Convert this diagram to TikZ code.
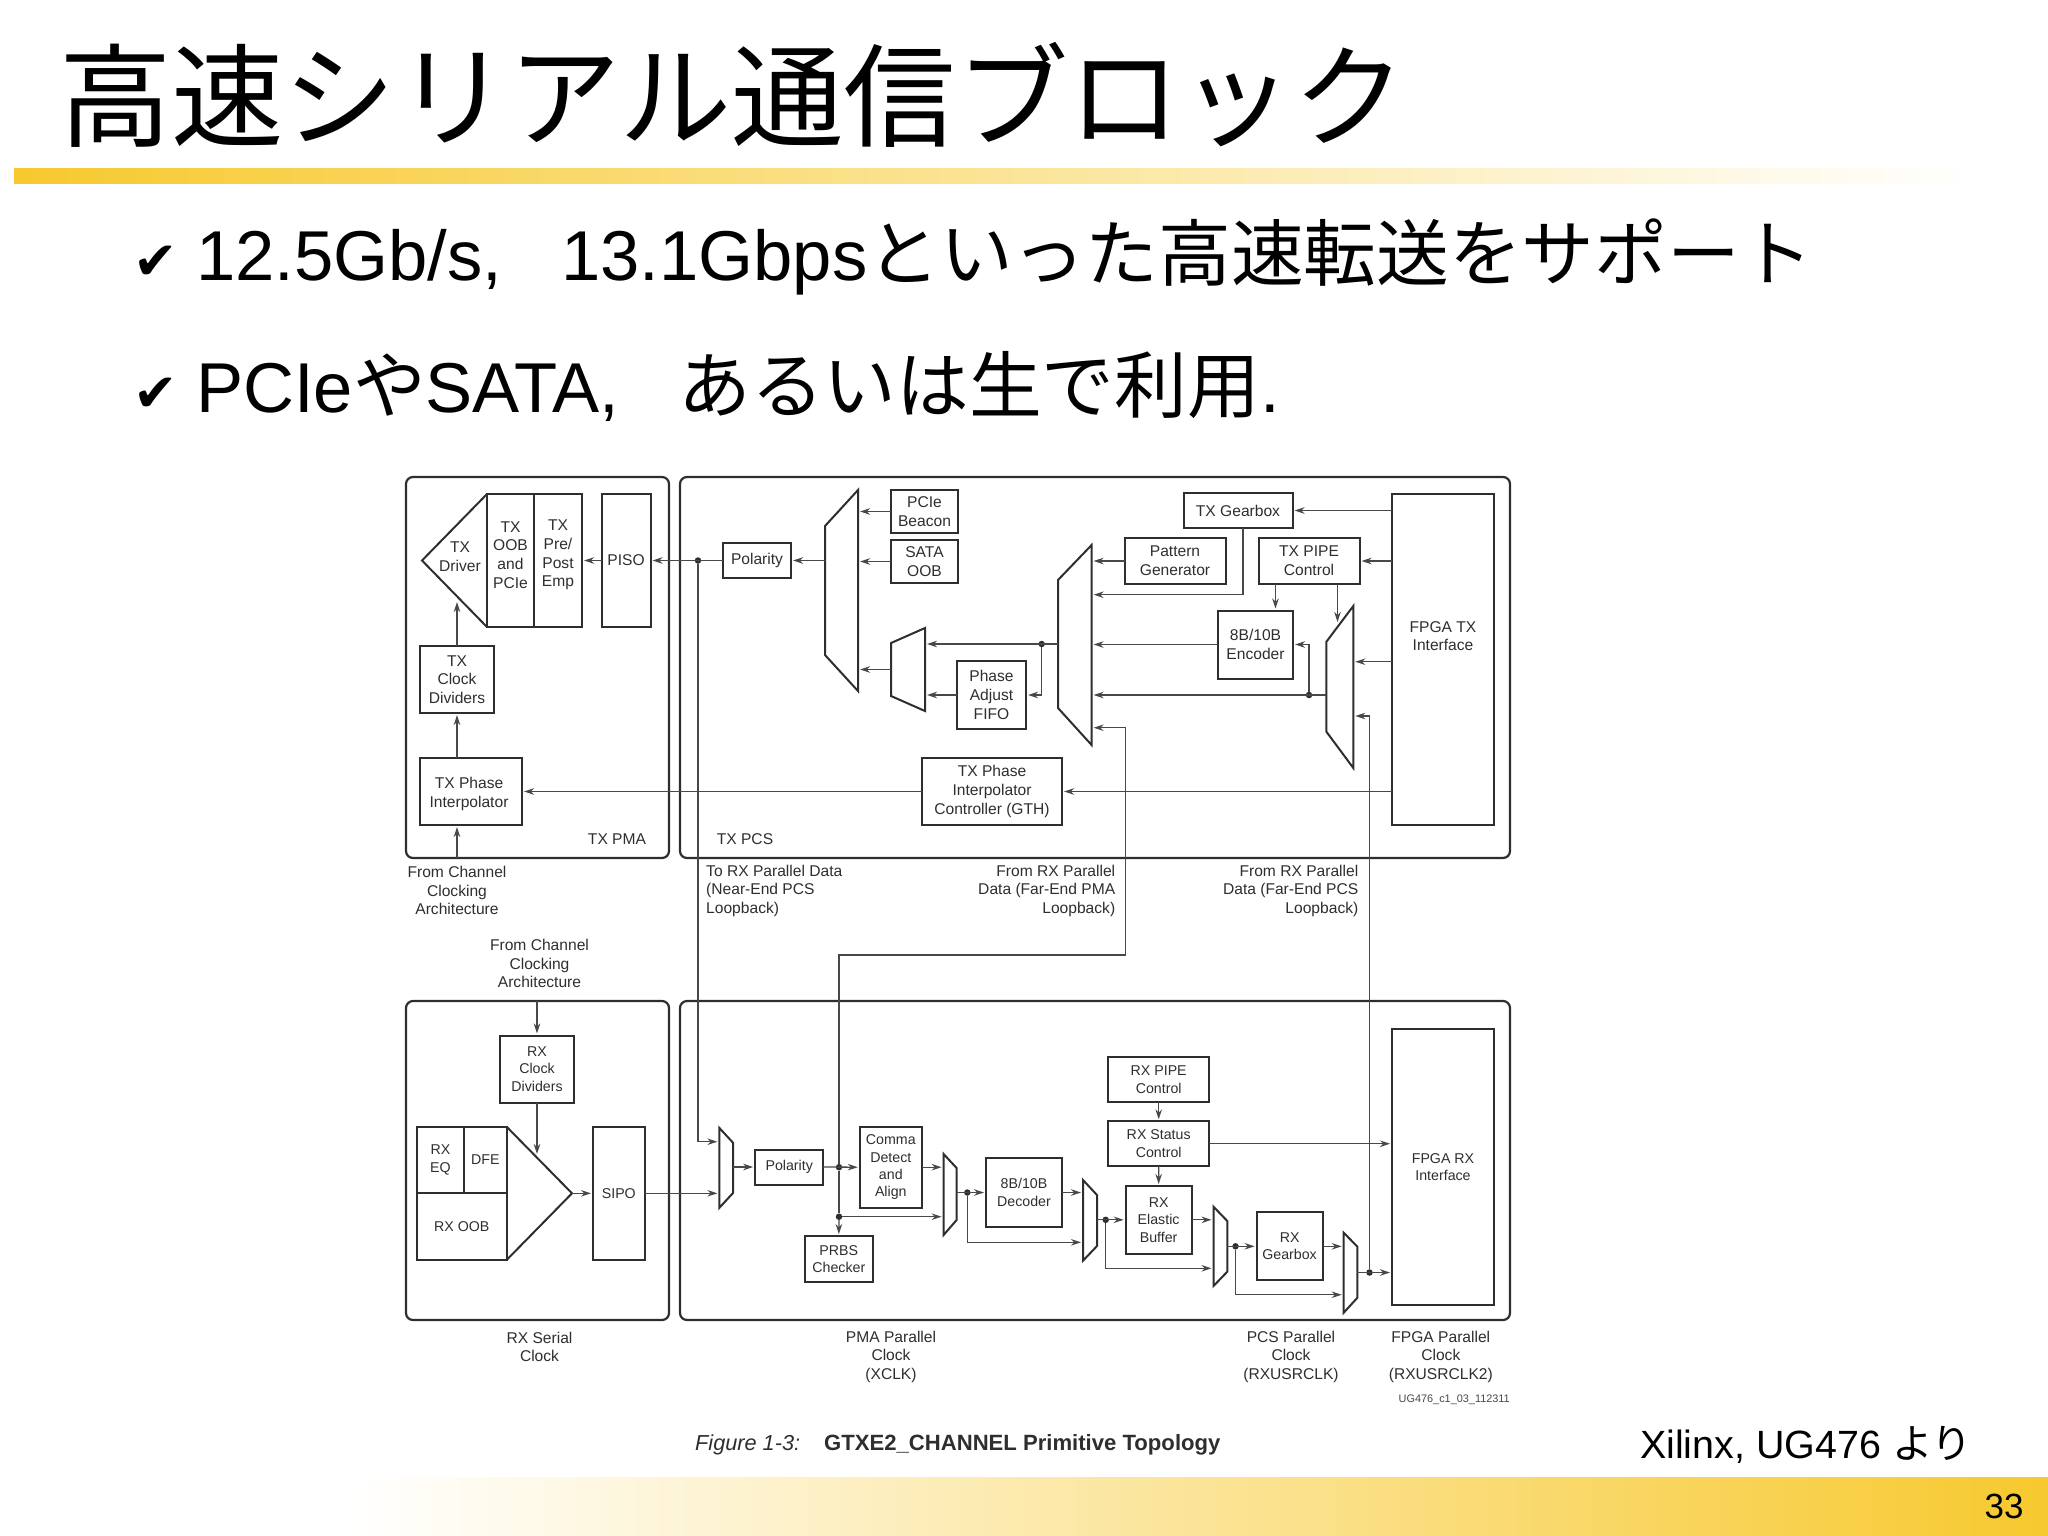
\documentclass[tikz,border=0pt]{standalone}
\usepackage{fontspec}
\setmainfont{Liberation Sans}
\newfontfamily\cjk{Noto Sans CJK JP}[Scale=1.03]
\newfontfamily\dejavu{DejaVu Sans}
\usetikzlibrary{arrows.meta, fit}
\definecolor{barGold}{HTML}{F7C92F}
\definecolor{inkDark}{HTML}{2E2E2E}
\definecolor{wireGrey}{HTML}{484848}

% name, narrow x, wide x, wide top, wide bottom, narrow top, narrow bottom
\newcommand{\muxblk}[7]{
  \draw[blkline] (#2,#6) -- (#3,#4) -- (#3,#5) -- (#2,#7) -- cycle;
  \coordinate (#1a) at (#2,#4);
  \coordinate (#1b) at (#3,#5);
  \node[ghost, fit=(#1a)(#1b)] (#1) {};
}

\begin{document}
\begin{tikzpicture}[x=1pt, y=-1pt, >={Stealth[length=10pt,width=6.5pt]},
  blkline/.style={draw=inkDark, line width=2pt, line join=miter},
  ghost/.style={inner sep=0pt, outer sep=0pt},
  box/.style 2 args={draw=inkDark, line width=2pt, inner sep=0pt, outer sep=0pt,
    minimum width=#1pt, minimum height=#2pt, align=center, text=inkDark,
    font=\fontsize{15.6}{18.7}\selectfont},
  rxbox/.style 2 args={box={#1}{#2}, font=\fontsize{14.2}{17.4}\selectfont},
  panel/.style 2 args={box={#1}{#2}, rounded corners=7pt, line width=2.2pt},
  lbl/.style={inner sep=0pt, align=center, text=inkDark,
    font=\fontsize{15.6}{18.7}\selectfont},
  flow/.style={->, draw=wireGrey, line width=1.3pt, shorten >=2pt},
  wire/.style={draw=wireGrey, line width=1.3pt},
  dotn/.style={circle, fill=inkDark, inner sep=0pt, minimum size=6.5pt},
  bodytext/.style={anchor=base west, inner sep=0pt, font=\fontsize{70.6}{80}\selectfont}]

  \useasboundingbox (0,0) rectangle (2048,1535);

  % slide frame
  \fill[left color=barGold, right color=white] (14,168) rectangle (1975,183);
  \fill[left color=white, right color=barGold] (353,1477) rectangle (2048,1535);
  \node[anchor=base west, inner sep=0pt, font=\fontsize{109}{120}\selectfont] (ttl) at (59,138) {\cjk 高速シリアル通信ブロック};
  \node[bodytext, font=\fontsize{53}{60}\selectfont] (cka) at (133,279) {\dejavu ✔};
  \node[bodytext] (linea) at (196,280) {12.5Gb/s,\hspace{59pt}13.1Gbps{\cjk といった高速転送をサポート}};
  \node[bodytext, font=\fontsize{53}{60}\selectfont] (ckb) at (133,411) {\dejavu ✔};
  \node[bodytext] (lineb) at (196,412) {PCIe{\cjk や}SATA,\hspace{59pt}{\cjk あるいは生で利用}.};
  \node[anchor=base west, inner sep=0pt, font=\fontsize{39.4}{44}\selectfont] (src) at (1640,1458) {Xilinx, UG476 {\cjk より}};
  \node[anchor=base, inner sep=0pt, font=\fontsize{35}{40}\selectfont] (pgno) at (2004,1518) {33};
  \node[anchor=base west, inner sep=0pt, font=\fontsize{21.7}{26}\selectfont\itshape, text=inkDark] (figno) at (695,1450) {Figure 1-3:};
  \node[anchor=base west, inner sep=0pt, font=\fontsize{22.1}{26}\selectfont\bfseries, text=inkDark] (figname) at (824,1450) {GTXE2\_CHANNEL Primitive Topology};
  \node[anchor=base east, inner sep=0pt, font=\fontsize{10.9}{12}\selectfont, text=wireGrey] (figid) at (1510,1402) {UG476\_c1\_03\_112311};

  % panels
  \node[panel={263}{381}] (pmatx) at (537.5,667.5) {};
  \node[panel={830}{381}] (pcstx) at (1095,667.5)  {};
  \node[panel={263}{319}] (serrx) at (537.5,1160.5) {};
  \node[panel={830}{319}] (pcsrx) at (1095,1160.5) {};
  \node[lbl] (pmatxt) at (617,839) {TX PMA};
  \node[lbl] (pcstxt) at (745,839) {TX PCS};

  % TX blocks
  \draw[blkline] (487,494) -- (422,560.5) -- (487,627);
  \node[box={47}{133}] (oob)    at (510.5,560.5) {};
  \node[box={48}{133}] (pre)    at (558,560.5)   {};
  \node[box={49}{133}] (piso)   at (626,560.5)   {PISO};
  \node[box={74}{67}]  (txclk)  at (457,679.5)   {TX\\Clock\\Dividers};
  \node[box={102}{67}] (interp) at (471,791.5)   {};
  \node[box={68}{35}]  (polt)   at (757,560.5)   {Polarity};
  \node[box={67}{43}]  (pcie)   at (924.5,511.5) {PCIe\\Beacon};
  \node[box={67}{43}]  (sata)   at (924.5,561.5) {SATA\\OOB};
  \node[box={69}{68}]  (fifo)   at (991.5,695)   {Phase\\Adjust\\FIFO};
  \node[box={140}{67}] (ctrl)   at (992,791.5)   {TX Phase\\Interpolator\\Controller (GTH)};
  \node[box={109}{35}] (txgear) at (1238,510.5)  {TX Gearbox};
  \node[box={101}{46}] (patt)   at (1175,561)    {Pattern\\Generator};
  \node[box={101}{46}] (txpipe) at (1309,561)    {TX PIPE\\Control};
  \node[box={75}{68}]  (enc)    at (1255.5,644.5) {8B/10B\\Encoder};
  \node[box={102}{331}] (fpgatx) at (1443,659.5) {};
  \node[lbl] (drvt)  at (460,557) {TX\\Driver};
  \node[lbl] (oobt)  at (510.5,555) {TX\\OOB\\and\\PCIe};
  \node[lbl] (pret)  at (558,555)   {TX\\Pre/\\Post\\Emp};
  \node[lbl] (fpgat) at (1443,636)  {FPGA TX\\Interface};
  \node[lbl] (interpt) at (469,794) {TX Phase\\Interpolator};
  \muxblk{muxpcie}{825}{858}{490}{691}{526}{655}
  \muxblk{muxfifo}{891}{925}{628}{711}{643}{696}
  \muxblk{muxtx}{1058}{1091.6}{545}{745}{580}{708}
  \muxblk{muxenc}{1326.4}{1353.3}{606}{768}{641.7}{731.7}

  % RX blocks
  \draw[blkline] (506.6,1126.7) -- (572,1193.3) -- (506.6,1260);
  \node[rxbox={74}{67}]  (rxclk)  at (537,1069)   {RX\\Clock\\Dividers};
  \node[rxbox={47}{66.6}] (rxeq)  at (440.5,1160) {RX\\EQ};
  \node[rxbox={42.6}{66.6}] (dfe) at (485.3,1160) {DFE};
  \node[rxbox={89.6}{66.7}] (rxoob) at (461.8,1226.6) {RX OOB};
  \node[rxbox={51.6}{133.3}] (sipo) at (618.8,1193.3) {SIPO};
  \node[rxbox={68}{35}]  (rxpol)  at (789.2,1167)  {Polarity};
  \node[rxbox={62}{81}]  (comma)  at (890.8,1167.2) {Comma\\Detect\\and\\Align};
  \node[rxbox={68}{45.7}] (prbs)  at (838.8,1258.9) {PRBS\\Checker};
  \node[rxbox={76}{68.4}] (dec)   at (1024,1192.5) {8B/10B\\Decoder};
  \node[rxbox={101}{44.7}] (rxpipe) at (1158.7,1079.7) {RX PIPE\\Control};
  \node[rxbox={101}{44.7}] (rxstat) at (1158.7,1143.7) {RX Status\\Control};
  \node[rxbox={66}{67.7}] (elast) at (1158.6,1219.8) {RX\\Elastic\\Buffer};
  \node[rxbox={66}{68}]  (rxgear) at (1289.6,1246.3) {RX\\Gearbox};
  \node[rxbox={102}{275.4}] (fpgarx) at (1443,1167) {FPGA RX\\Interface};
  \muxblk{muxa}{733}{719.4}{1128}{1207.7}{1142.7}{1193}
  \muxblk{muxb}{956.6}{943.6}{1154}{1235}{1168}{1220}
  \muxblk{muxc}{1097}{1083}{1180}{1260.7}{1195}{1246}
  \muxblk{muxd}{1227.3}{1213.5}{1206.7}{1286}{1221}{1271.7}
  \muxblk{muxe}{1357.4}{1343.7}{1232.7}{1312.7}{1246.7}{1297.7}

  % outer labels
  \node[lbl]                         (chtx)  at (457,890.7)    {From Channel\\Clocking\\Architecture};
  \node[lbl, anchor=west, align=left]   (nearl) at (706,890.7)    {To RX Parallel Data\\(Near-End PCS\\Loopback)};
  \node[lbl, anchor=east, align=right]  (pmal)  at (1115.4,890.7) {From RX Parallel\\Data (Far-End PMA\\Loopback)};
  \node[lbl, anchor=east, align=right]  (pcsl)  at (1358.5,890.7) {From RX Parallel\\Data (Far-End PCS\\Loopback)};
  \node[lbl]                         (chrx)  at (539.5,963.7)  {From Channel\\Clocking\\Architecture};
  \node[lbl]                         (serl)  at (539.5,1347)   {RX Serial\\Clock};
  \node[lbl]                         (xclk)  at (891,1356.7)   {PMA Parallel\\Clock\\(XCLK)};
  \node[lbl]                         (uclk)  at (1291,1356.7)  {PCS Parallel\\Clock\\(RXUSRCLK)};
  \node[lbl]                         (uclkb) at (1440.8,1356.7) {FPGA Parallel\\Clock\\(RXUSRCLK2)};

  % junctions and free ends
  \node[dotn] (dnear)  at (698,560.5)    {};
  \node[dotn] (dfifo)  at (1041.7,644)   {};
  \node[dotn] (denc)   at (1309,695)     {};
  \node[dotn] (dcomma) at (839,1167.2)   {};
  \node[dotn] (dprbs)  at (839,1216.7)   {};
  \node[dotn] (ddec)   at (967.3,1192.5) {};
  \node[dotn] (delast) at (1105.7,1219.8) {};
  \node[dotn] (dgear)  at (1235.5,1246.3) {};
  \node[dotn] (drx)    at (1369.5,1272.5) {};
  \coordinate (drvin)   at (457,600);
  \coordinate (gearin)  at (1091.6,594.7);
  \coordinate (pipein)  at (1337.5,624);
  \coordinate (fpgaout) at (1392,661.7);
  \coordinate (pcsloop) at (1353.3,716);
  \coordinate (pmaloop) at (1091.6,727.7);
  \coordinate (pmaturn) at (1125.7,955);
  \coordinate (nearin)  at (719.4,1141.7);
  \coordinate (rxdrvin) at (537,1156);
  \coordinate (tritip)  at (572,1193.3);
  \coordinate (decby)   at (1083,1242.3);
  \coordinate (elby)    at (1213.5,1268.3);
  \coordinate (gearby)  at (1343.7,1294.7);

  % TX paths
  \draw[flow] (piso.west) -- (pre.east);
  \draw[flow] (polt.west) -- (piso.east);
  \draw[flow] (muxpcie.west |- polt.east) -- (polt.east);
  \draw[flow] (pcie.west) -- (pcie.west -| muxpcie.east);
  \draw[flow] (sata.west) -- (sata.west -| muxpcie.east);
  \draw[flow] (muxfifo.west) -- (muxfifo.west -| muxpcie.east);
  \draw[flow] (fifo.west) -- (fifo.west -| muxfifo.east);
  \draw[flow] (muxtx.west |- dfifo) -- (dfifo -| muxfifo.east);
  \draw[flow] (dfifo) |- (fifo.east);
  \draw[flow] (txgear.east -| fpgatx.west) -- (txgear.east);
  \draw[flow] ([xshift=5pt]txgear.south) |- (gearin);
  \draw[flow] (patt.west) -- (patt.west -| muxtx.east);
  \draw[flow] (enc.west) -- (enc.west -| muxtx.east);
  \draw[flow] (txpipe.east -| fpgatx.west) -- (txpipe.east);
  \draw[flow] ([xshift=-33.5pt]txpipe.south) -- ([xshift=-33.5pt]txpipe.south |- enc.north);
  \draw[flow] ([xshift=28.5pt]txpipe.south) -- (pipein);
  \draw[flow] (muxenc.west |- denc) -- (denc -| muxtx.east);
  \draw[flow] (denc) |- (enc.east);
  \draw[flow] (fpgaout) -- (fpgaout -| muxenc.east);
  \draw[flow] (ctrl.east -| fpgatx.west) -- (ctrl.east);
  \draw[flow] (ctrl.west) -- (interp.east);
  \draw[flow] (txclk.south |- interp.north) -- (txclk.south);
  \draw[flow] (txclk.north) -- (drvin);
  \draw[flow] (txclk.south |- pmatx.south) -- (txclk.south |- interp.south);

  % loopbacks
  \draw[flow] (dnear) |- (nearin);
  \draw[flow] (dcomma) |- (pmaturn) |- (pmaloop);
  \draw[flow] (drx) |- (pcsloop);

  % RX paths
  \draw[flow] (rxclk.north |- serrx.north) -- (rxclk.north);
  \draw[flow] (rxclk.south) -- (rxdrvin);
  \draw[flow] (tritip) -- (sipo.west);
  \draw[flow] (sipo.east) -- (sipo.east -| muxa.west);
  \draw[flow] (muxa.east |- rxpol.west) -- (rxpol.west);
  \draw[flow] (rxpol.east) -- (comma.west);
  \draw[wire] (dcomma) -- (dprbs);
  \draw[flow] (dprbs) -- (prbs.north);
  \draw[flow] (dprbs) -- (dprbs -| muxb.west);
  \draw[flow] (comma.east) -- (comma.east -| muxb.west);
  \draw[flow] (muxb.east |- dec.west) -- (dec.west);
  \draw[flow] (ddec) |- (decby);
  \draw[flow] (dec.east) -- (dec.east -| muxc.west);
  \draw[flow] (muxc.east |- elast.west) -- (elast.west);
  \draw[flow] (delast) |- (elby);
  \draw[flow] (elast.east) -- (elast.east -| muxd.west);
  \draw[flow] (muxd.east |- rxgear.west) -- (rxgear.west);
  \draw[flow] (dgear) |- (gearby);
  \draw[flow] (rxgear.east) -- (rxgear.east -| muxe.west);
  \draw[flow] (muxe.east |- drx) -- (drx -| fpgarx.west);
  \draw[flow] (rxpipe.south) -- (rxstat.north);
  \draw[flow] (rxstat.south) -- (elast.north);
  \draw[flow] (rxstat.east) -- (rxstat.east -| fpgarx.west);

\end{tikzpicture}
\end{document}
